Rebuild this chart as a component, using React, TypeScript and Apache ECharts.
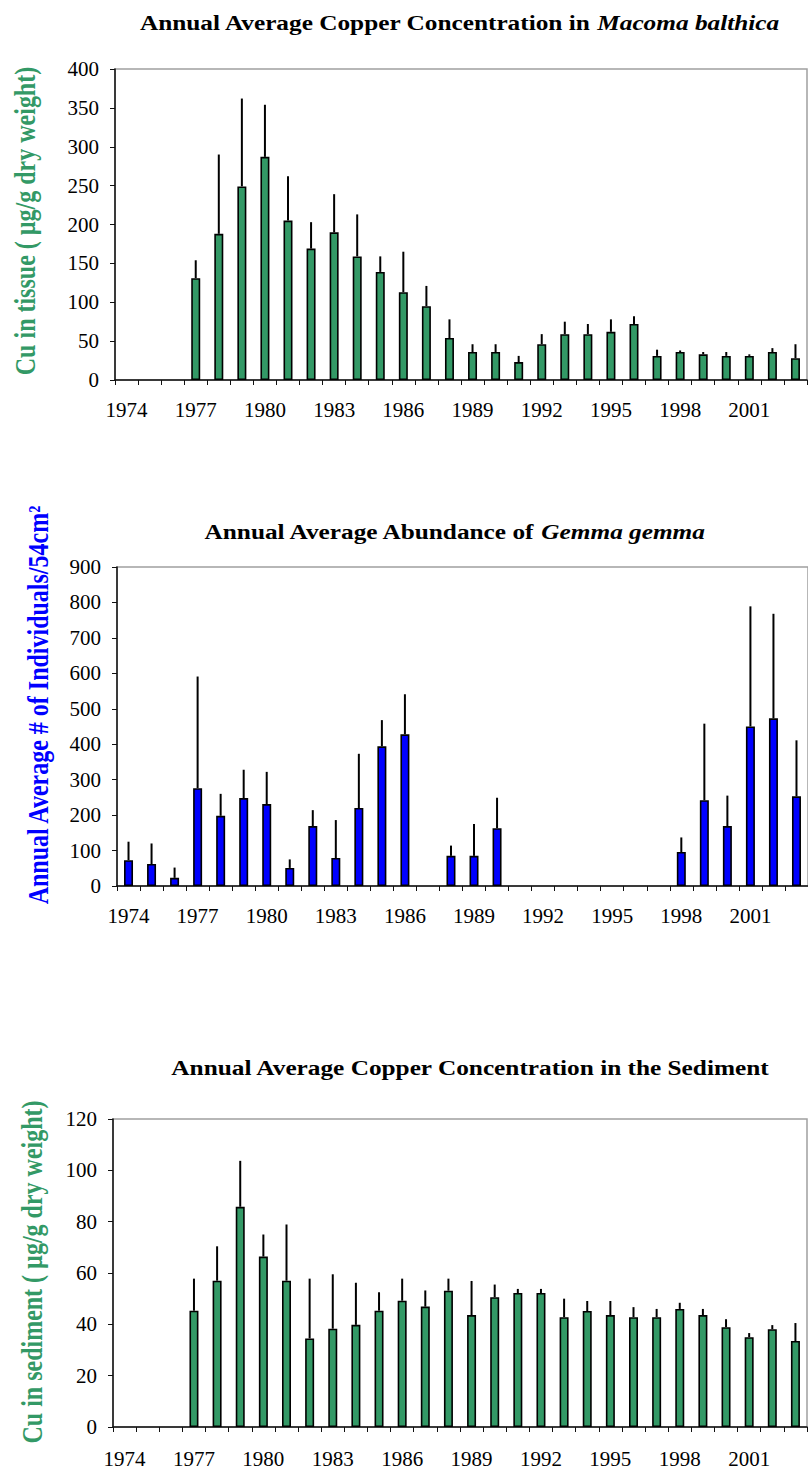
import React, { useEffect, useRef } from "react";
import * as echarts from "echarts";

const years = [
  "1974", "1975", "1976", "1977", "1978", "1979", "1980", "1981", "1982", "1983",
  "1984", "1985", "1986", "1987", "1988", "1989", "1990", "1991", "1992", "1993",
  "1994", "1995", "1996", "1997", "1998", "1999", "2000", "2001", "2002", "2003",
];

// Cu in Macoma balthica tissue (µg/g dry weight)
const tissueCu = [null, null, null, 131, 188, 249, 287, 205, 169, 190, 159, 139, 113, 95, 54, 36, 36, 23, 46, 59, 59, 62, 72, 31, 36, 33, 31, 31, 36, 28];
const tissueCuSD = [null, null, null, 23, 102, 113, 67, 57, 34, 49, 54, 20, 52, 26, 24, 10, 10, 8, 13, 16, 13, 16, 10, 8, 2, 3, 5, 2, 5, 18];

// Gemma gemma abundance (# of individuals / 54 cm²)
const gemmaAbundance = [73, 62, 23, 276, 198, 248, 231, 51, 169, 79, 220, 394, 428, null, 85, 85, 163, null, null, null, null, null, null, null, 96, 242, 169, 450, 473, 253];
const gemmaAbundanceSD = [52, 58, 29, 315, 62, 80, 91, 24, 45, 107, 153, 74, 113, null, 29, 90, 86, null, null, null, null, null, null, null, 41, 216, 86, 339, 295, 158];

// Cu in sediment (µg/g dry weight)
const sedimentCu = [null, null, null, 45.3, 57, 85.8, 66.4, 57, 34.5, 38.3, 39.8, 45.3, 49.2, 46.9, 53.1, 43.6, 50.6, 52.2, 52.2, 42.8, 45.2, 43.6, 42.8, 42.8, 46, 43.6, 38.9, 35, 38.1, 33.5];
const sedimentCuSD = [null, null, null, 12.5, 13.4, 17.9, 8.6, 21.9, 23.3, 21.2, 16.4, 7.2, 8.6, 6.3, 4.7, 13.3, 4.9, 1.6, 1.6, 7.2, 3.9, 5.5, 3.9, 3.2, 2.4, 2.4, 3.1, 1.6, 1.6, 7.0];

const GREEN = "#339966";
const BLUE = "#0000ff";
const FONT = "Liberation Serif";

function errData(vals: (number | null)[], sds: (number | null)[]) {
  const out: number[][] = [];
  vals.forEach((v, i) => {
    const s = sds[i];
    if (v != null && s != null) out.push([i, v, v + s]);
  });
  return out;
}

const renderErr = (_params: any, api: any) => {
  const p0 = api.coord([api.value(0), api.value(1)]);
  const p1 = api.coord([api.value(0), api.value(2)]);
  return {
    type: "line",
    shape: { x1: p0[0], y1: p0[1], x2: p1[0], y2: p1[1] },
    style: { stroke: "#000", lineWidth: 2 },
  };
};

function xAxis(gridIndex: number, margin: number) {
  return {
    type: "category",
    gridIndex,
    data: years,
    boundaryGap: true,
    axisLine: { show: true, lineStyle: { color: "#111", width: 1.5 } },
    axisTick: { show: true, interval: 0, length: 5, lineStyle: { color: "#111", width: 1 } },
    axisLabel: { interval: 2, margin, fontFamily: FONT, fontSize: 21, color: "#000" },
    splitLine: { show: false },
  };
}

function yAxis(gridIndex: number, max: number, interval: number) {
  return {
    type: "value",
    gridIndex,
    min: 0,
    max,
    interval,
    axisLine: { show: true, lineStyle: { color: "#111", width: 1.5 } },
    axisTick: { show: true, length: 5, lineStyle: { color: "#111", width: 1 } },
    axisLabel: { margin: 16, fontFamily: FONT, fontSize: 21, color: "#000" },
    splitLine: { show: false },
  };
}

function barSeries(idx: number, data: (number | null)[], color: string) {
  return {
    type: "bar",
    xAxisIndex: idx,
    yAxisIndex: idx,
    data: data.map((v) => (v == null ? "-" : v)),
    barWidth: 9,
    itemStyle: { color, borderColor: "#000", borderWidth: 1.6 },
    z: 3,
  };
}

function errSeries(idx: number, vals: (number | null)[], sds: (number | null)[]) {
  return {
    type: "custom",
    xAxisIndex: idx,
    yAxisIndex: idx,
    data: errData(vals, sds),
    encode: { x: 0, y: [1, 2] },
    renderItem: renderErr,
    z: 2,
  };
}

function titleText(x: number, y: number, plain: string, italic: string) {
  return {
    type: "text",
    x,
    y,
    scaleX: 1.15,
    style: {
      text: italic ? `{b|${plain}}{i|${italic}}` : `{b|${plain}}`,
      rich: {
        b: { fontFamily: FONT, fontWeight: "bold", fontSize: 22, fill: "#000" },
        i: { fontFamily: FONT, fontWeight: "bold", fontStyle: "italic", fontSize: 22, fill: "#000" },
      },
      align: "center",
      verticalAlign: "middle",
    },
  };
}

function yName(x: number, y: number, text: string, color: string) {
  return {
    type: "text",
    x,
    y,
    rotation: Math.PI / 2,
    scaleY: 1.2,
    style: {
      text,
      fontFamily: FONT,
      fontWeight: "bold",
      fontSize: 24,
      fill: color,
      align: "center",
      verticalAlign: "middle",
    },
  };
}

export default function App() {
  const ref = useRef<HTMLDivElement>(null);
  useEffect(() => {
    if (!ref.current) return;
    const chart = echarts.init(ref.current, null, { renderer: "svg" });
    chart.setOption({
      animation: false,
      backgroundColor: "#fff",
      grid: [
        { left: 115, top: 69, width: 692, height: 311, show: true, borderColor: "#a0a0a0", borderWidth: 1.5 },
        { left: 117, top: 567, width: 693, height: 319, show: true, borderColor: "#a0a0a0", borderWidth: 1.5 },
        { left: 113, top: 1119, width: 694, height: 308, show: true, borderColor: "#a0a0a0", borderWidth: 1.5 },
      ],
      xAxis: [xAxis(0, 19), xAxis(1, 19), xAxis(2, 21)],
      yAxis: [yAxis(0, 400, 50), yAxis(1, 900, 100), yAxis(2, 120, 20)],
      series: [
        errSeries(0, tissueCu, tissueCuSD),
        barSeries(0, tissueCu, GREEN),
        errSeries(1, gemmaAbundance, gemmaAbundanceSD),
        barSeries(1, gemmaAbundance, BLUE),
        errSeries(2, sedimentCu, sedimentCuSD),
        barSeries(2, sedimentCu, GREEN),
      ],
      graphic: [
        titleText(459, 23, "Annual Average Copper Concentration in ", "Macoma balthica"),
        titleText(454, 532, "Annual Average Abundance of ", "Gemma gemma"),
        titleText(470, 1068, "Annual Average Copper Concentration in the Sediment", ""),
        yName(25, 221, "Cu in tissue ( µg/g dry weight)", GREEN),
        yName(38, 705, "Annual Average # of Individuals/54cm²", BLUE),
        yName(32, 1272, "Cu in sediment ( µg/g dry weight)", GREEN),
      ],
    });
    return () => chart.dispose();
  }, []);
  return (
    <div
      ref={ref}
      style={{ position: "absolute", left: 0, top: 0, width: 808, height: 1469, background: "#fff" }}
    />
  );
}
